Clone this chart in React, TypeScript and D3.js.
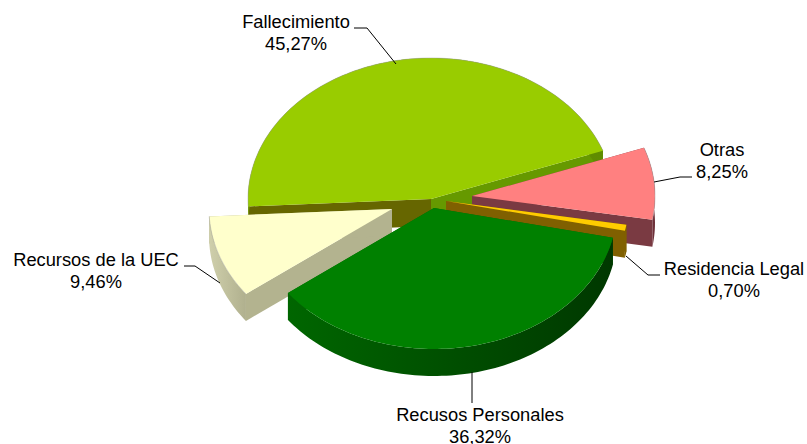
import React from "react";
import * as d3 from "d3";

const categories = ["Fallecimiento", "Otras", "Residencia Legal", "Recusos Personales", "Recursos de la UEC"];
const shares = [45.27, 8.25, 0.7, 36.32, 9.46];
const labels = ["45,27%", "8,25%", "0,70%", "36,32%", "9,46%"];

const WIDTH = 807, HEIGHT = 444, RX = 183, RY = 141, DEPTH = 27;
const START = (-93 * Math.PI) / 180;

const apexes: [number, number][] = [[431, 199], [472, 196], [446, 201], [434, 208], [392, 209]];
const topFill = ["#99CC00", "#FF8080", "#FFCC00", "#008000", "#FFFFCC"];
const startWall = ["#666600", "#7A3A42", "#806000", "#006600", "#B3B38F"];
const endWall = ["#669900", "#7A3A42", "#806000", "#006600", "#B3B38F"];
const outerStops = [
  ["#6E9E00", "#5F8C00"],
  ["#7A3A42", "#6C2F38"],
  ["#806000", "#806000"],
  ["#006600", "#003800"],
  ["#CFCFAB", "#B0B08E"],
];
const rimOpacity = [0.55, 0.55, 0, 0, 0.55];
// Slices are painted back to front
const paintOrder = [0, 1, 2, 4, 3];

const leaders = [
  [[354, 28], [367, 28], [396, 64]],
  [[654, 182], [680, 177], [692, 177]],
  [[626, 256], [648, 275], [660, 275]],
  [[472, 372], [472, 403]],
  [[184, 266], [195, 266], [220, 283]],
];
const labelAt: [number, number][] = [[296, 28], [722, 156], [734, 275], [480, 421], [96, 266]];

const pie = d3.pie<number>().sort(null).startAngle(START).endAngle(START + 2 * Math.PI);
const arcs = pie(shares);
const line = d3.line<[number, number]>().x((p) => p[0]).y((p) => p[1]);

function project(apex: [number, number], a: number, dz = 0): [number, number] {
  return [apex[0] + RX * Math.sin(a), apex[1] - RY * Math.cos(a) + dz];
}
function rim(apex: [number, number], a0: number, a1: number, dz = 0): [number, number][] {
  const n = Math.max(4, Math.ceil(Math.abs(a1 - a0) * 40));
  return d3.range(n + 1).map((i) => project(apex, a0 + ((a1 - a0) * i) / n, dz));
}
function radialWall(apex: [number, number], a: number): [number, number][] {
  const tip = project(apex, a);
  return [apex, tip, [tip[0], tip[1] + DEPTH], [apex[0], apex[1] + DEPTH]];
}

export default function App() {
  return (
    <svg
      width={WIDTH}
      height={HEIGHT}
      viewBox={`0 0 ${WIDTH} ${HEIGHT}`}
      style={{ position: "absolute", left: 0, top: 0, display: "block", background: "#fff" }}
      fontFamily="'Liberation Sans', Arial, sans-serif"
    >
      <defs>
        {outerStops.map((s, i) => (
          <linearGradient key={i} id={`wall${i}`} x1="0" x2="1" y1="0" y2="0">
            <stop offset="0" stopColor={s[0]} />
            <stop offset="1" stopColor={s[1]} />
          </linearGradient>
        ))}
      </defs>
      {paintOrder.map((i) => {
        const d = arcs[i];
        const apex = apexes[i];
        const top = rim(apex, d.startAngle, d.endAngle);
        const bottom = rim(apex, d.endAngle, d.startAngle, DEPTH);
        return (
          <g key={i}>
            <path d={(line(radialWall(apex, d.startAngle)) ?? "") + "Z"} fill={startWall[i]} />
            <path d={(line(radialWall(apex, d.endAngle)) ?? "") + "Z"} fill={endWall[i]} />
            <path d={(line([...top, ...bottom]) ?? "") + "Z"} fill={`url(#wall${i})`} />
            <path d={(line([apex, ...top]) ?? "") + "Z"} fill={topFill[i]} />
            <path d={line(top) ?? ""} fill="none" stroke="#9a9a9a" strokeOpacity={rimOpacity[i]} strokeWidth={0.8} />
          </g>
        );
      })}
      {leaders.map((pts, i) => (
        <path key={i} d={line(pts as [number, number][]) ?? ""} fill="none" stroke="#000" strokeWidth={1} />
      ))}
      {categories.map((c, i) => (
        <text key={c} x={labelAt[i][0]} y={labelAt[i][1]} textAnchor="middle" fontSize={18.3} fill="#000">
          <tspan x={labelAt[i][0]}>{c}</tspan>
          <tspan x={labelAt[i][0]} dy={22}>{labels[i]}</tspan>
        </text>
      ))}
    </svg>
  );
}
